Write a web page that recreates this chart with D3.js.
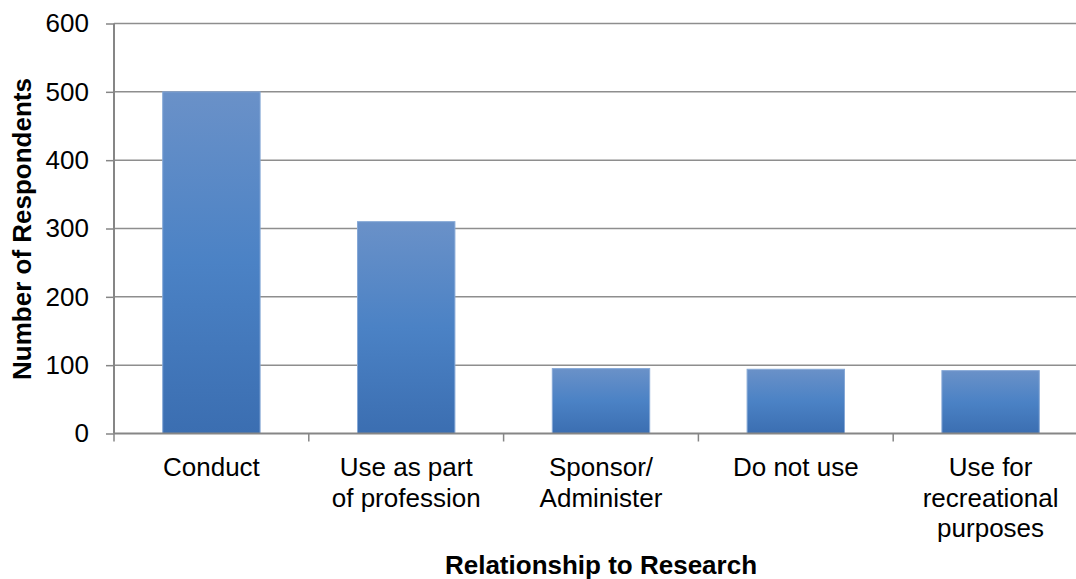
<!DOCTYPE html>
<html>
<head>
<meta charset="utf-8">
<script src="https://cdn.jsdelivr.net/npm/d3@7"></script>
<style>
  html, body { margin: 0; padding: 0; background: #fff; }
  svg { display: block; font-family: "Liberation Sans", Arial, sans-serif; }
</style>
</head>
<body>
<svg id="chart" width="1076" height="579"></svg>
<script>
// Survey respondents by their relationship to research
const categories = [
  ["Conduct"],
  ["Use as part", "of profession"],
  ["Sponsor/", "Administer"],
  ["Do not use"],
  ["Use for", "recreational", "purposes"]
];
const respondents = [500, 310, 95, 94, 92];
const yTicks = [0, 100, 200, 300, 400, 500, 600];
const xTitle = "Relationship to Research";
const yTitle = "Number of Respondents";

const svg = d3.select("#chart");
const margin = { left: 114, top: 23.5, bottom: 433.5 };
const plotRight = 1088;

const keys = categories.map((c, i) => i);
const x = d3.scaleBand().domain(keys).range([margin.left, plotRight]).paddingInner(0.5).paddingOuter(0.25);
const y = d3.scaleLinear().domain([0, 600]).range([margin.bottom, margin.top]);

// Vertical gradient for the bars
const defs = svg.append("defs");
const grad = defs.append("linearGradient").attr("id", "barFill")
  .attr("x1", 0).attr("y1", 0).attr("x2", 0).attr("y2", 1);
grad.append("stop").attr("offset", "0%").attr("stop-color", "#6a91c8");
grad.append("stop").attr("offset", "50%").attr("stop-color", "#4b82c5");
grad.append("stop").attr("offset", "100%").attr("stop-color", "#3b6eb1");

// Horizontal gridlines
svg.append("g")
  .selectAll("line")
  .data(yTicks.filter(d => d > 0))
  .join("line")
  .attr("x1", margin.left).attr("x2", plotRight)
  .attr("y1", d => y(d)).attr("y2", d => y(d))
  .attr("stroke", "#8e8e8e").attr("stroke-width", 1.5);

// Bars
svg.append("g")
  .selectAll("rect")
  .data(respondents)
  .join("rect")
  .attr("x", (d, i) => x(i))
  .attr("width", x.bandwidth())
  .attr("y", d => y(d))
  .attr("height", d => y(0) - y(d))
  .attr("fill", "url(#barFill)")
  .attr("stroke", "#86a8d6")
  .attr("stroke-width", 1);

// Y axis
const yAxis = d3.axisLeft(y).tickValues(yTicks).tickSize(8).tickPadding(17).tickFormat(d3.format("d"));
const gy = svg.append("g").attr("transform", `translate(${margin.left},0)`).call(yAxis);
gy.select(".domain").attr("stroke", "#868686").attr("stroke-width", 2).attr("d", `M-0,${margin.bottom}V${margin.top}`);
gy.selectAll(".tick line").attr("stroke", "#868686").attr("stroke-width", 1.5);
gy.selectAll(".tick text").attr("font-size", 26).attr("fill", "#000").attr("font-family", "Liberation Sans, Arial, sans-serif");

// X axis baseline with category boundary ticks
const boundaries = keys.map(i => x(i) - x.step() * x.paddingInner() / 2).concat([plotRight]);
svg.append("line")
  .attr("x1", margin.left).attr("x2", plotRight)
  .attr("y1", y(0)).attr("y2", y(0))
  .attr("stroke", "#868686").attr("stroke-width", 2);
svg.append("g").selectAll("line")
  .data(boundaries)
  .join("line")
  .attr("x1", d => d).attr("x2", d => d)
  .attr("y1", y(0)).attr("y2", y(0) + 8)
  .attr("stroke", "#868686").attr("stroke-width", 1.5);

// Category labels
const labels = svg.append("g").attr("font-size", 26).attr("fill", "#000").attr("text-anchor", "middle");
categories.forEach((lines, i) => {
  const t = labels.append("text")
    .attr("x", x(i) + x.bandwidth() / 2)
    .attr("y", 476);
  lines.forEach((ln, j) => {
    t.append("tspan").attr("x", x(i) + x.bandwidth() / 2).attr("dy", j === 0 ? 0 : 30.5).text(ln);
  });
});

// Axis titles
svg.append("text")
  .attr("x", 601).attr("y", 573.5)
  .attr("text-anchor", "middle")
  .attr("font-size", 26).attr("font-weight", "bold")
  .text(xTitle);

svg.append("text")
  .attr("transform", "translate(31,229) rotate(-90)")
  .attr("text-anchor", "middle")
  .attr("font-size", 26).attr("font-weight", "bold")
  .text(yTitle);
</script>
</body>
</html>
